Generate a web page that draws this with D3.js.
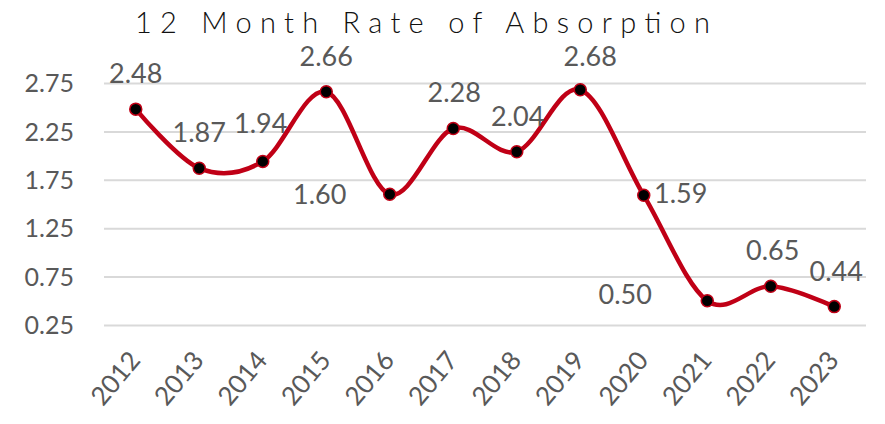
<!DOCTYPE html>
<html>
<head>
<meta charset="utf-8">
<script src="https://cdn.jsdelivr.net/npm/d3@7"></script>
<style>
  body { margin: 0; background: #fff; }
  svg { display: block; font-family: Lato, "Open Sans", sans-serif; }
</style>
</head>
<body>
<div id="main"></div>
<script>
var width = 885,
    height = 424;

// chart data
var years = ["2012", "2013", "2014", "2015", "2016", "2017", "2018", "2019", "2020", "2021", "2022", "2023"];
var absorption = [2.48, 1.87, 1.94, 2.66, 1.60, 2.28, 2.04, 2.68, 1.59, 0.50, 0.65, 0.44];
var yTicks = [0.25, 0.75, 1.25, 1.75, 2.25, 2.75];

// baseline offset of each data label from its point (placed by hand in the original)
var labelOffset = [[0, -26], [0, -26], [-2, -28], [0, -26], [-70, 10], [1, -26], [1, -26], [10, -24], [37, 8], [-82, 3], [2, -26], [2, -26]];

var margin = { left: 104, right: 19, top: 83, bottom: 99 };

var svg = d3.select("#main").append("svg")
    .attr("width", width)
    .attr("height", height);

var x = d3.scaleBand()
    .domain(years)
    .range([margin.left, width - margin.right]);

var y = d3.scaleLinear()
    .domain([0.25, 2.75])
    .range([height - margin.bottom, margin.top]);

// title, stretched out like the original
svg.append("text")
    .attr("x", 135)
    .attr("y", 33)
    .attr("textLength", 575)
    .attr("lengthAdjust", "spacing")
    .style("font-size", "29px")
    .style("font-weight", 300)
    .attr("fill", "#111")
    .text("12 Month Rate of Absorption");

// gridlines + y labels
var yAxis = d3.axisLeft(y)
    .tickValues(yTicks)
    .tickSize(-(width - margin.left - margin.right))
    .tickPadding(30)
    .tickFormat(d3.format(".2f"));

var gy = svg.append("g")
    .attr("transform", `translate(${margin.left},0)`)
    .call(yAxis);
gy.select(".domain").remove();
gy.selectAll(".tick line").attr("stroke", "#d9d9d9").attr("stroke-width", 2);
gy.selectAll(".tick text")
    .attr("fill", "#595959")
    .attr("dy", "0.35em")
    .style("font-size", "25px")
    .style("font-family", "Lato, sans-serif");

// x labels, rotated
var xAxis = d3.axisBottom(x).tickSize(0);
var gx = svg.append("g")
    .attr("transform", `translate(0,${height - margin.bottom})`)
    .call(xAxis);
gx.select(".domain").remove();
gx.selectAll(".tick text")
    .attr("fill", "#595959")
    .style("font-size", "26px")
    .style("font-family", "Lato, sans-serif")
    .attr("text-anchor", "end")
    .attr("dy", null)
    .attr("y", 0)
    .attr("transform", "translate(6,36) rotate(-50)");

var pts = years.map(function(d, i) { return { year: d, value: absorption[i], i: i }; });

var line = d3.line()
    .x(function(d) { return x(d.year) + x.bandwidth() / 2; })
    .y(function(d) { return y(d.value); })
    .curve(d3.curveCardinal.tension(0));

svg.append("path")
    .datum(pts)
    .attr("d", line)
    .attr("fill", "none")
    .attr("stroke", "#c00016")
    .attr("stroke-width", 4.5);

svg.selectAll(".dot")
    .data(pts)
    .enter().append("circle")
    .attr("class", "dot")
    .attr("cx", function(d) { return x(d.year) + x.bandwidth() / 2; })
    .attr("cy", function(d) { return y(d.value); })
    .attr("r", 6)
    .attr("fill", "#000")
    .attr("stroke", "#c00016")
    .attr("stroke-width", 1.5);

svg.selectAll(".lbl")
    .data(pts)
    .enter().append("text")
    .attr("class", "lbl")
    .attr("x", function(d) { return x(d.year) + x.bandwidth() / 2 + labelOffset[d.i][0]; })
    .attr("y", function(d) { return y(d.value) + labelOffset[d.i][1]; })
    .attr("text-anchor", "middle")
    .attr("fill", "#595959")
    .style("font-size", "27px")
    .text(function(d) { return d.value.toFixed(2); });
</script>
</body>
</html>
